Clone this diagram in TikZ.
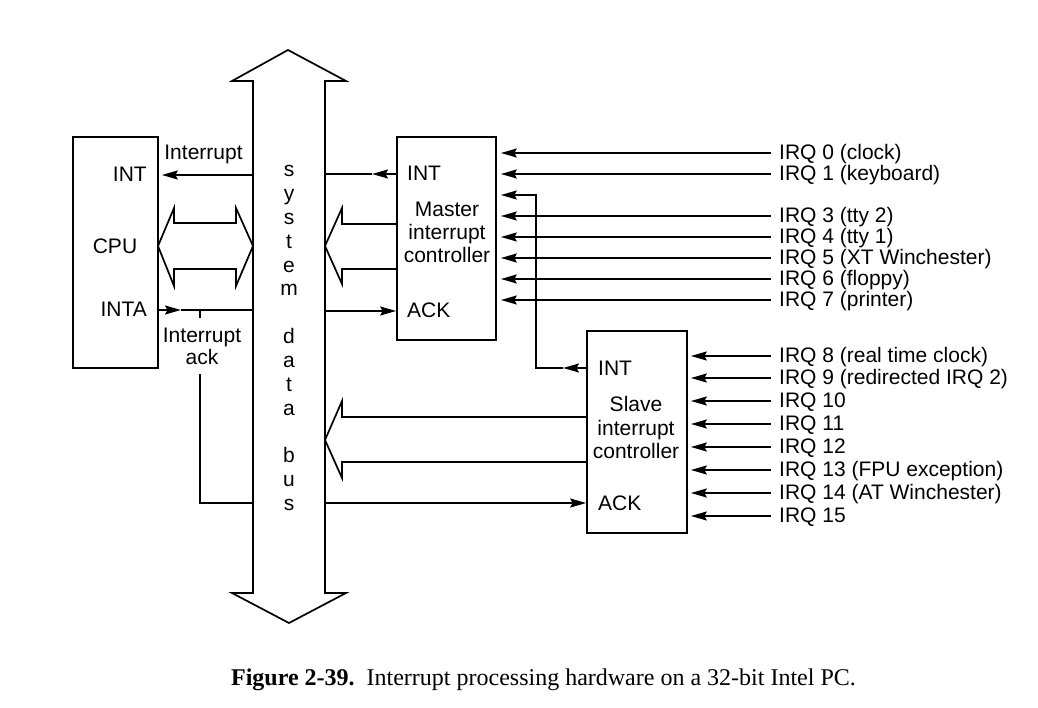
\documentclass[tikz,border=0pt]{standalone}
\usepackage{fontspec}
\setmainfont{Liberation Serif}
\newfontfamily\hv{Liberation Sans}
\usetikzlibrary{arrows.meta,calc}
\begin{document}
\begin{tikzpicture}[x=1pt,y=-1pt,
  ln/.style={line width=1.7pt},
  arr/.style={ln,-{Stealth[length=16pt,width=9pt,inset=2.5pt]}},
  box/.style={draw,line width=1.7pt,inner sep=0},
  lbl/.style={font=\hv\fontsize{21}{23.5}\selectfont,inner sep=0},
  fat/.style={line width=1.7pt,line join=miter},
]
\useasboundingbox (0,0) rectangle (1038,708);

% system data bus
\draw[fat] (288,50) -- (346,81) -- (325,81) -- (325,593) -- (346,593) -- (289,623)
  -- (232,593) -- (253,593) -- (253,81) -- (232,81) -- cycle;
\coordinate (bL) at (253,0);
\coordinate (bR) at (325,0);
\foreach \c/\k in {s/0,y/1,s/2,t/3,e/4,m/5,d/7,a/8,t/9,a/10,b/12,u/13,s/14}
  \node[lbl,anchor=base] (bus\k) at (289,{177+23.8*\k}) {\c};

% boxes
\node[box,minimum width=85pt,minimum height=231pt] (cpu) at (115.5,252.5) {};
\node[box,minimum width=99pt,minimum height=203pt] (master) at (446.5,238.5) {};
\node[box,minimum width=100pt,minimum height=202pt] (slave) at (637,432) {};

% CPU texts
\node[lbl,anchor=base east] (cint) at (147,182) {INT};
\node[lbl,anchor=base] (ccpu) at (115,254) {CPU};
\node[lbl,anchor=base east] (cinta) at (147,317) {INTA};
\node[lbl,anchor=base] (tint) at (203.5,160) {Interrupt};
\node[lbl,anchor=base] (tack1) at (202,342) {Interrupt};
\node[lbl,anchor=base] (tack2) at (202,364) {ack};

% master texts
\node[lbl,anchor=base west] (mint) at (407,181) {INT};
\node[lbl,anchor=base] (mname) at (447,217) {Master};
\node[lbl,anchor=base] (mname2) at (447,240) {interrupt};
\node[lbl,anchor=base] (mname3) at (447,263) {controller};
\node[lbl,anchor=base west] (mack) at (407,318) {ACK};

% slave texts
\node[lbl,anchor=base west] (sint) at (598,375) {INT};
\node[lbl,anchor=base] (sname) at (636,411) {Slave};
\node[lbl,anchor=base] (sname2) at (636,435) {interrupt};
\node[lbl,anchor=base] (sname3) at (636,458) {controller};
\node[lbl,anchor=base west] (sack) at (598,510) {ACK};

% fat arrows
\draw[fat] (158,246) -- (174,208) -- (174,223) -- (236,223) -- (236,208) -- (253,246)
  -- (236,286) -- (236,269) -- (174,269) -- (174,286) -- cycle;
\draw[fat] (master.west |- 0,224) -- (342,224) -- (342,208) -- (325,246) -- (342,284)
  -- (342,269) -- (master.west |- 0,269);
\draw[fat] (slave.west |- 0,417) -- (342,417) -- (342,401) -- (325,440) -- (342,478)
  -- (342,462) -- (slave.west |- 0,462);

% CPU signals
\draw[arr,shorten >=3pt] (bL |- 0,175) -- (cpu.east |- 0,175);
\draw[arr] (cpu.east |- 0,310) -- (181,310);
\draw[ln] (181,310) -- (bL |- 0,310);
\draw[ln] (200,310) -- (200,318);
\draw[ln] (200,374) -- (200,503) -- (bL |- 0,503);

% master signals
\draw[arr] (master.west |- 0,174) -- (372,174);
\draw[ln] (372,174) -- (bR |- 0,174);
\draw[arr] (bR |- 0,311) -- (master.west |- 0,311);

% slave signals
\draw[arr] (bR |- 0,503) -- (slave.west |- 0,503);
\draw[arr] (slave.west |- 0,368) -- (563,368);
\draw[arr,shorten >=4pt] (563,368) -- (536,368) -- (536,195) -- (master.east |- 0,195);

% master IRQ inputs
\foreach \y/\t in {153/IRQ 0 (clock),174/IRQ 1 (keyboard),216/IRQ 3 (tty 2),237/IRQ 4 (tty 1),258/IRQ 5 (XT Winchester),279/IRQ 6 (floppy),300/IRQ 7 (printer)}{
  \coordinate (m\y) at (771,\y);
  \draw[arr,shorten >=4pt] (m\y) -- (master.east |- m\y);
  \node[lbl,anchor=base west] (ml\y) at ($(m\y)+(8,6.5)$) {\t};
}

% slave IRQ inputs
\foreach \y/\t in {356/IRQ 8 (real time clock),378/IRQ 9 (redirected IRQ 2),401/IRQ 10,424/IRQ 11,447/IRQ 12,470/IRQ 13 (FPU exception),493/IRQ 14 (AT Winchester),516/IRQ 15}{
  \coordinate (s\y) at (771,\y);
  \draw[arr,shorten >=3pt] (s\y) -- (slave.east |- s\y);
  \node[lbl,anchor=base west] (sl\y) at ($(s\y)+(8,6.5)$) {\t};
}

% caption
\node[anchor=base,inner sep=0,font=\fontsize{24}{28}\selectfont] (cap) at (543.5,685)
  {\textbf{Figure 2-39.}\hspace{0.5em}Interrupt processing hardware on a 32-bit Intel PC.};
\end{tikzpicture}
\end{document}
